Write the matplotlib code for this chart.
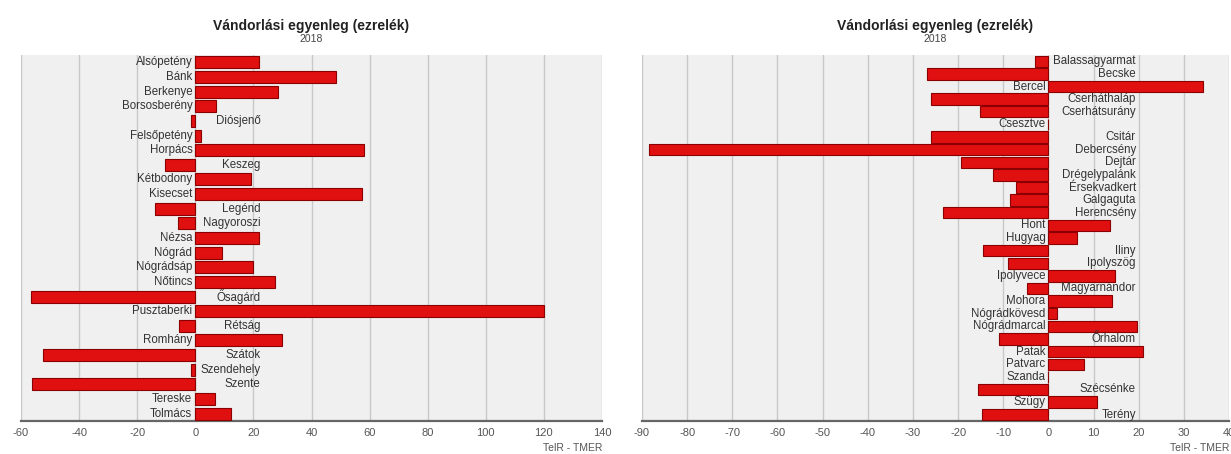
#!/usr/bin/env python3
"""Vándorlási egyenleg (ezrelék), 2018 - two horizontal bar panels."""

import matplotlib

matplotlib.use("Agg")
import matplotlib.pyplot as plt
import numpy as np

plt.rcParams["font.family"] = ["Liberation Sans", "DejaVu Sans"]
plt.rcParams["axes.unicode_minus"] = False

left_towns = [
    "Alsópetény", "Bánk", "Berkenye", "Borsosberény", "Diósjenő", "Felsőpetény",
    "Horpács", "Keszeg", "Kétbodony", "Kisecset", "Legénd", "Nagyoroszi", "Nézsa",
    "Nógrád", "Nógrádsáp", "Nőtincs", "Ősagárd", "Pusztaberki", "Rétság", "Romhány",
    "Szátok", "Szendehely", "Szente", "Tereske", "Tolmács",
]
left_values = [
    22, 48.5, 28.5, 7, -1.4, 2, 58, -10.5, 19.2, 57.5, -14, -6, 22,
    9.2, 19.7, 27.6, -56.7, 120, -5.5, 30, -52.3, -1.5, -56.3, 6.9, 12.3,
]

right_towns = [
    "Balassagyarmat", "Becske", "Bercel", "Cserháthaláp", "Cserhátsurány", "Csesztve",
    "Csitár", "Debercsény", "Dejtár", "Drégelypalánk", "Érsekvadkert", "Galgaguta",
    "Herencsény", "Hont", "Hugyag", "Iliny", "Ipolyszög", "Ipolyvece", "Magyarnándor",
    "Mohora", "Nógrádkövesd", "Nógrádmarcal", "Őrhalom", "Patak", "Patvarc", "Szanda",
    "Szécsénke", "Szügy", "Terény",
]
right_values = [
    -3, -26.8, 34.2, -26.1, -15.1, 0, -26.1, -88.4, -19.4, -12.2, -7.2, -8.5,
    -23.4, 13.7, 6.3, -14.4, -8.9, 14.8, -4.8, 14, 1.8, 19.6, -10.9, 20.9, 7.9, 0,
    -15.5, 10.7, -14.6,
]

TITLE = "Vándorlási egyenleg (ezrelék)"
SUBTITLE = "2018"
XLABEL = "TelR - TMER"

W, H = 1231, 454
fig = plt.figure(figsize=(W / 100, H / 100), dpi=100)


def panel(rect, towns, values, xlim, step, bar_h):
    ax = fig.add_axes(rect)
    y = np.arange(len(towns))
    ax.set_facecolor("#f0f0f0")
    ax.barh(y, values, height=bar_h, color="#e01010", edgecolor="#8a0000", linewidth=0.8, zorder=3)
    ax.set_xlim(*xlim)
    ax.set_ylim(len(towns) - 0.5, -0.5)
    ax.set_xticks(np.arange(xlim[0], xlim[1] + 1, step))
    ax.set_yticks([])
    ax.grid(axis="x", color="#c8c8c8", linewidth=1, zorder=0)
    for side in ("top", "right", "left"):
        ax.spines[side].set_visible(False)
    ax.spines["bottom"].set_color("#666666")
    ax.spines["bottom"].set_linewidth(1.6)
    ax.tick_params(axis="x", length=0, labelsize=8, labelcolor="#555555", pad=5)

    # labels: positive bars get the name left of zero, negative ones right of it,
    # right-aligned at a common edge set by the longest such name
    renderer = fig.canvas.get_renderer()
    neg = []
    for yi, name, v in zip(y, towns, values):
        if v >= 0:
            ax.annotate(name, (0, yi), xytext=(-3, 0), textcoords="offset pixels",
                        ha="right", va="center", fontsize=8.3, color="#333333", zorder=4)
        else:
            neg.append((yi, name))
    widths = [ax.text(0, 0, n, fontsize=8.3).get_window_extent(renderer).width for _, n in neg]
    for t in ax.texts[-len(neg):]:
        t.remove()
    off = max(widths) + 5
    for yi, name in neg:
        ax.annotate(name, (0, yi), xytext=(off, 0), textcoords="offset pixels",
                    ha="right", va="center", fontsize=8.3, color="#333333", zorder=4)

    ax.text(0.5, 1.08, TITLE, transform=ax.transAxes, ha="center", va="center",
            fontsize=10, fontweight="bold", color="#222222")
    ax.text(0.5, 1.045, SUBTITLE, transform=ax.transAxes, ha="center", va="center",
            fontsize=7.5, color="#444444")
    ax.text(1.0, -0.075, XLABEL, transform=ax.transAxes, ha="right", va="center",
            fontsize=7.5, color="#555555")
    return ax


bottom = (H - 421) / H
height = 366 / H
panel([21 / W, bottom, 581 / W, height], left_towns, left_values, (-60, 140), 20, 0.82)
panel([642 / W, bottom, 587 / W, height], right_towns, right_values, (-90, 40), 10, 0.9)

fig.savefig("out.png", dpi=100)
